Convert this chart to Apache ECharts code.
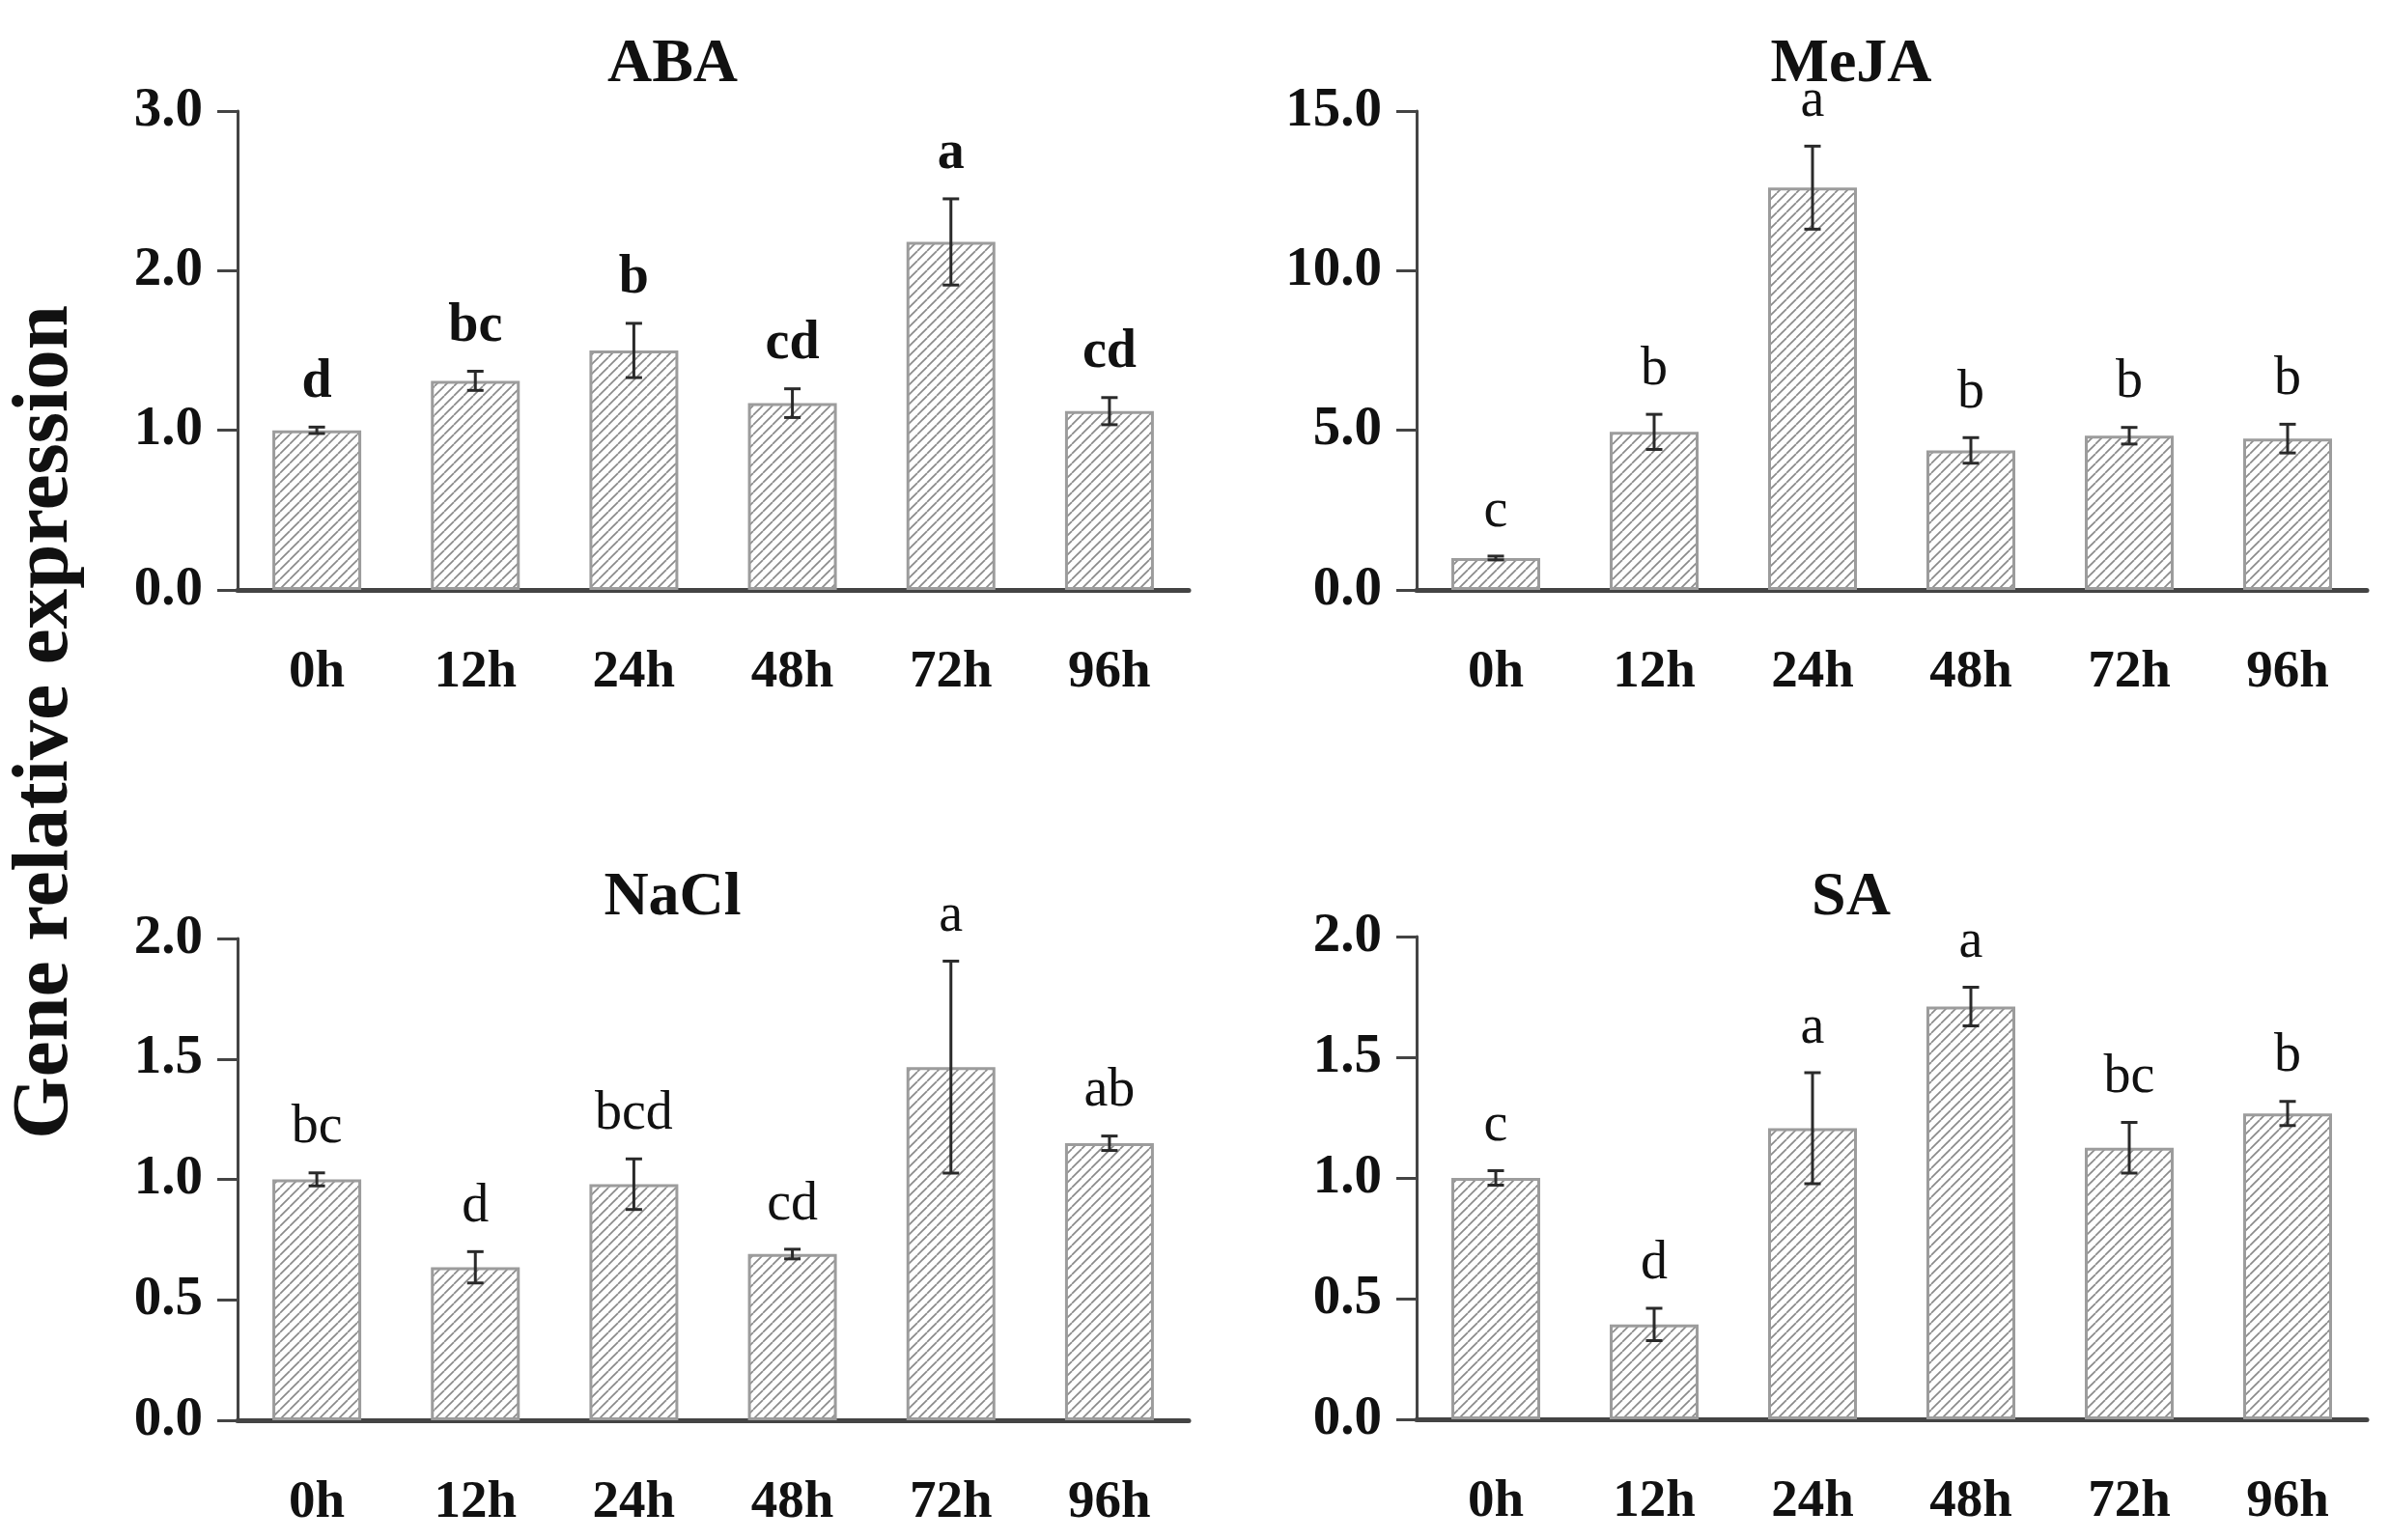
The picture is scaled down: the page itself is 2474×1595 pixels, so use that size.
<!DOCTYPE html>
<html>
<head>
<meta charset="utf-8">
<script src="https://cdn.jsdelivr.net/npm/echarts/dist/echarts.min.js"></script>
<style>
html,body{margin:0;padding:0;background:#fff;}
#chart{width:2474px;height:1595px;}
</style>
</head>
<body>
<div id="chart"></div>
<script>
// ---------- data ----------
const categories = ['0h', '12h', '24h', '48h', '72h', '96h'];
const panelTitles = ['ABA', 'MeJA', 'NaCl', 'SA'];

const abaMeans   = [1.00, 1.31, 1.50, 1.17, 2.18, 1.12];
const abaErrors  = [0.02, 0.06, 0.17, 0.09, 0.27, 0.085];
const abaLetters = ['d', 'bc', 'b', 'cd', 'a', 'cd'];

const mejaMeans   = [1.0, 4.95, 12.6, 4.37, 4.83, 4.74];
const mejaErrors  = [0.06, 0.55, 1.3, 0.4, 0.26, 0.45];
const mejaLetters = ['c', 'b', 'a', 'b', 'b', 'b'];

const naclMeans   = [1.00, 0.635, 0.98, 0.69, 1.466, 1.15];
const naclErrors  = [0.027, 0.065, 0.105, 0.02, 0.44, 0.03];
const naclLetters = ['bc', 'd', 'bcd', 'cd', 'a', 'ab'];

const saMeans   = [1.00, 0.393, 1.206, 1.71, 1.125, 1.267];
const saErrors  = [0.03, 0.067, 0.23, 0.08, 0.105, 0.05];
const saLetters = ['c', 'd', 'a', 'a', 'bc', 'b'];

const yMaxes = [3, 15, 2, 2];
const yIntervals = [1, 5, 0.5, 0.5];

// ---------- styling / layout ----------
const FONT = '"Liberation Serif", "Times New Roman", serif';
const panels = [
  {means: abaMeans,  errs: abaErrors,  letters: abaLetters,  bold: true},
  {means: mejaMeans, errs: mejaErrors, letters: mejaLetters, bold: false},
  {means: naclMeans, errs: naclErrors, letters: naclLetters, bold: false},
  {means: saMeans,   errs: saErrors,   letters: saLetters,   bold: false}
];
const grids = [
  {left: 246,  top: 115, width: 985, height: 496},
  {left: 1467, top: 115, width: 984, height: 496},
  {left: 246,  top: 972, width: 985, height: 499},
  {left: 1467, top: 970, width: 984, height: 500}
];

// hatch pattern
const pat = document.createElement('canvas');
pat.width = 10; pat.height = 10;
const pc = pat.getContext('2d');
pc.fillStyle = '#ffffff';
pc.fillRect(0, 0, 10, 10);
pc.strokeStyle = '#8a8a8a';
pc.lineWidth = 1.7;
[-10, 0, 10].forEach(function (k) {
  pc.beginPath();
  pc.moveTo(k, 10);
  pc.lineTo(k + 10, 0);
  pc.stroke();
});

const chart = echarts.init(document.getElementById('chart'), null, {renderer: 'canvas'});

const option = {
  backgroundColor: '#ffffff',
  animation: false,
  title: panelTitles.map(function (t, i) {
    const g = grids[i];
    return {
      text: t,
      left: g.left + g.width / 2 - 47,
      top: i < 2 ? 30 : 893,
      textAlign: 'center',
      textStyle: {fontFamily: FONT, fontWeight: 'bold', fontSize: 64, color: '#111'}
    };
  }),
  grid: grids.map(function (g) {
    return {left: g.left, top: g.top, width: g.width, height: g.height, containLabel: false};
  }),
  xAxis: grids.map(function (g, i) {
    return {
      type: 'category',
      gridIndex: i,
      data: categories,
      axisTick: {show: false},
      axisLine: {show: true, lineStyle: {color: '#444', width: 5}},
      axisLabel: {margin: 58, fontFamily: FONT, fontWeight: 'bold', fontSize: 55, color: '#111'},
      splitLine: {show: false}
    };
  }),
  yAxis: grids.map(function (g, i) {
    return {
      type: 'value',
      gridIndex: i,
      min: 0,
      max: yMaxes[i],
      interval: yIntervals[i],
      axisLine: {show: true, lineStyle: {color: '#444', width: 3}},
      axisTick: {show: true, inside: false, length: 21, lineStyle: {color: '#444', width: 3}},
      axisLabel: {
        margin: 36, fontFamily: FONT, fontWeight: 'bold', fontSize: 57, color: '#111',
        formatter: function (v) { return v.toFixed(1); }
      },
      splitLine: {show: false}
    };
  }),
  graphic: [{
    type: 'text',
    x: 48,
    y: 748,
    rotation: Math.PI / 2,
    style: {
      text: 'Gene relative expression',
      fill: '#111',
      font: 'bold 83px ' + FONT,
      align: 'center',
      verticalAlign: 'middle'
    }
  }],
  series: []
};

panels.forEach(function (p, i) {
  option.series.push({
    type: 'bar',
    xAxisIndex: i,
    yAxisIndex: i,
    data: p.means,
    barWidth: 92,
    itemStyle: {color: {image: pat, repeat: 'repeat'}, borderColor: '#9c9c9c', borderWidth: 3},
    z: 2
  });
  option.series.push({
    type: 'custom',
    xAxisIndex: i,
    yAxisIndex: i,
    data: p.means.map(function (m, k) { return [k, m, p.errs[k]]; }),
    z: 5,
    renderItem: function (params, api) {
      const x = api.value(0), m = api.value(1), e = api.value(2);
      const hi = api.coord([x, m + e]);
      const lo = api.coord([x, m - e]);
      const cap = 8.5;
      return {
        type: 'group',
        children: [
          {type: 'line', shape: {x1: hi[0], y1: hi[1], x2: lo[0], y2: lo[1]}, style: {stroke: '#2a2a2a', lineWidth: 3}},
          {type: 'line', shape: {x1: hi[0] - cap, y1: hi[1], x2: hi[0] + cap, y2: hi[1]}, style: {stroke: '#2a2a2a', lineWidth: 3}},
          {type: 'line', shape: {x1: lo[0] - cap, y1: lo[1], x2: lo[0] + cap, y2: lo[1]}, style: {stroke: '#2a2a2a', lineWidth: 3}}
        ]
      };
    }
  });
  option.series.push({
    type: 'custom',
    xAxisIndex: i,
    yAxisIndex: i,
    data: p.means.map(function (m, k) { return [k, m + p.errs[k], k]; }),
    z: 6,
    renderItem: function (params, api) {
      const k = api.value(2);
      const pt = api.coord([api.value(0), api.value(1)]);
      return {
        type: 'text',
        x: pt[0],
        y: pt[1] - 18,
        style: {
          text: p.letters[k],
          fill: '#111',
          font: (p.bold ? 'bold ' : '') + '56px ' + FONT,
          align: 'center',
          verticalAlign: 'bottom'
        }
      };
    }
  });
});

chart.setOption(option);
</script>
</body>
</html>
